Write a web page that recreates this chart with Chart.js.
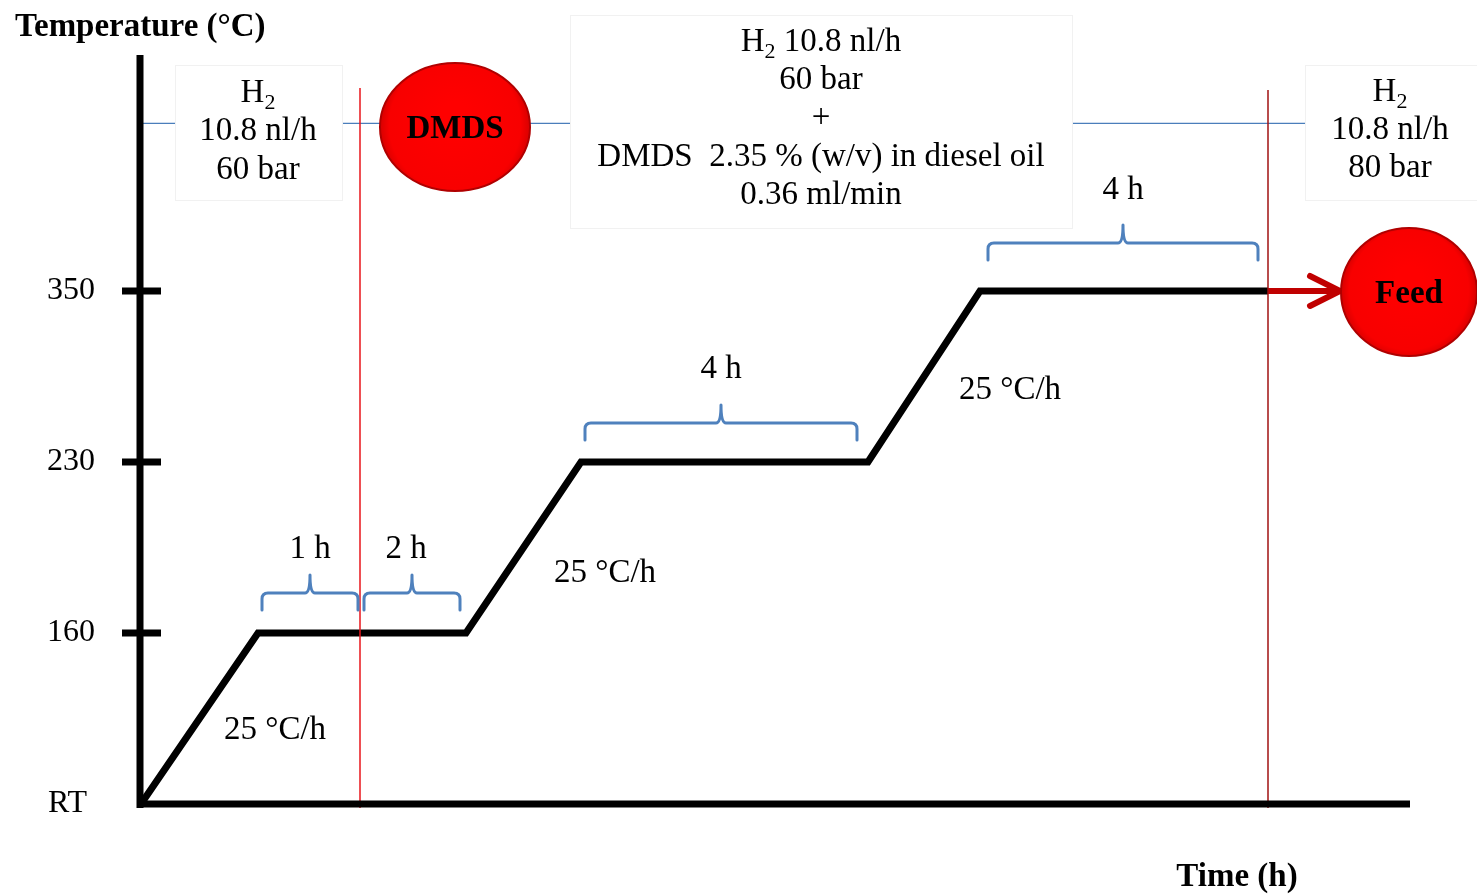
<!DOCTYPE html>
<html>
<head>
<meta charset="utf-8">
<script src="https://cdn.jsdelivr.net/npm/chart.js@4/dist/chart.umd.min.js"></script>
<style>
  html, body { margin: 0; padding: 0; background: #ffffff; }
  #wrap { width: 1477px; height: 896px; position: relative; }
</style>
</head>
<body>
<div id="wrap"><canvas id="c" width="1477" height="896"></canvas></div>
<script>
// Temperature levels shown on the vertical axis (schematic, evenly spaced)
const tempTicks = ['RT', '160', '230', '350'];

// Heating programme: schematic time positions and temperature at each corner
const profileTime = [0, 1.17, 3.25, 4.40, 7.27, 8.39, 11.27];
const profileTemp = ['RT', '160', '160', '230', '230', '350', '350'];

// Feed arrow after the last hold
const feedTime = [11.27, 11.97];
const feedTemp = ['350', '350'];

// Stage boundaries (red vertical lines)
const stageTime = [2.19, 11.27];
const stageColor = ['#e8141b', '#a01010'];

// Hold periods marked with braces
const holdStart = [1.21, 2.23, 4.44, 8.47];
const holdEnd   = [2.17, 3.19, 7.16, 11.17];
const holdTemp  = ['160', '160', '230', '350'];
const holdLabel = ['1 h', '2 h', '4 h', '4 h'];

// Ramp-rate labels
const rampLabel = ['25 \u00B0C/h', '25 \u00B0C/h', '25 \u00B0C/h'];
const rampTime  = [1.34, 4.64, 8.69];
const rampLevel = [0.43, 1.35, 2.42];

const level = t => tempTicks.indexOf(String(t));
const SERIF = "'Liberation Serif', 'Times New Roman', serif";
const FS = 33;

function drawH2Line(ctx, rest, cx, cy, size) {
  const main = size + 'px ' + SERIF;
  const sub = Math.round(size * 0.66) + 'px ' + SERIF;
  ctx.font = main; const wH = ctx.measureText('H').width;
  const wR = ctx.measureText(rest).width;
  ctx.font = sub; const w2 = ctx.measureText('2').width;
  let x = cx - (wH + w2 + wR) / 2;
  ctx.textAlign = 'left'; ctx.textBaseline = 'middle';
  ctx.font = main; ctx.fillText('H', x, cy); x += wH;
  ctx.font = sub; ctx.fillText('2', x, cy + size * 0.3); x += w2;
  ctx.font = main; ctx.fillText(rest, x, cy);
}

function drawBrace(ctx, x0, x1, yLine) {
  // yLine = horizontal bar; tips hang down, centre nub points up
  const tip = 17, nub = 18, r = 6;
  const xm = (x0 + x1) / 2;
  ctx.beginPath();
  ctx.moveTo(x0, yLine + tip);
  ctx.lineTo(x0, yLine + r);
  ctx.quadraticCurveTo(x0, yLine, x0 + r, yLine);
  ctx.lineTo(xm - 5, yLine);
  ctx.quadraticCurveTo(xm, yLine, xm, yLine - nub);
  ctx.quadraticCurveTo(xm, yLine, xm + 5, yLine);
  ctx.lineTo(x1 - r, yLine);
  ctx.quadraticCurveTo(x1, yLine, x1, yLine + r);
  ctx.lineTo(x1, yLine + tip);
  ctx.stroke();
}

function drawEllipse(ctx, cx, cy, rx, ry, label) {
  ctx.save();
  ctx.beginPath();
  ctx.ellipse(cx, cy, rx, ry, 0, 0, Math.PI * 2);
  const g = ctx.createRadialGradient(cx, cy - ry * 0.2, ry * 0.2, cx, cy, Math.max(rx, ry));
  g.addColorStop(0, '#ff0000');
  g.addColorStop(0.85, '#f80000');
  g.addColorStop(1, '#d80000');
  ctx.fillStyle = g;
  ctx.fill();
  ctx.lineWidth = 2;
  ctx.strokeStyle = '#b00000';
  ctx.stroke();
  ctx.fillStyle = '#000';
  ctx.font = 'bold ' + FS + 'px ' + SERIF;
  ctx.textAlign = 'center'; ctx.textBaseline = 'middle';
  ctx.fillText(label, cx, cy + 2);
  ctx.restore();
}

function box(ctx, x, y, w, h) {
  ctx.fillStyle = '#ffffff';
  ctx.fillRect(x, y, w, h);
  ctx.strokeStyle = '#f1f1f1';
  ctx.lineWidth = 1;
  ctx.strokeRect(x + 0.5, y + 0.5, w, h);
}

const schemePlugin = {
  id: 'scheme',
  afterDraw(chart) {
    const ctx = chart.ctx;
    const xs = chart.scales.x, ys = chart.scales.y;
    const px = v => xs.getPixelForValue(v);
    const py = v => ys.getPixelForValue(v);
    const area = chart.chartArea;
    ctx.save();

    // thin blue gas-feed line
    const yGas = py(3.98);
    ctx.strokeStyle = '#4a7ebb'; ctx.lineWidth = 1.2;
    ctx.beginPath(); ctx.moveTo(area.left, yGas); ctx.lineTo(chart.width, yGas); ctx.stroke();

    // condition boxes
    box(ctx, 175, 65, 167, 135);
    box(ctx, 570, 15, 502, 213);
    box(ctx, 1305, 65, 172, 135);

    ctx.fillStyle = '#000';
    ctx.textAlign = 'center'; ctx.textBaseline = 'middle';
    drawH2Line(ctx, '', 258, 93, FS);
    ctx.font = FS + 'px ' + SERIF; ctx.textAlign = 'center';
    ctx.fillText('10.8 nl/h', 258, 131);
    ctx.fillText('60 bar', 258, 170);

    drawH2Line(ctx, ' 10.8 nl/h', 821, 42, FS);
    ctx.font = FS + 'px ' + SERIF; ctx.textAlign = 'center';
    ctx.fillText('60 bar', 821, 80);
    ctx.fillText('+', 821, 118);
    ctx.fillText('DMDS  2.35 % (w/v) in diesel oil', 821, 157);
    ctx.fillText('0.36 ml/min', 821, 195);

    drawH2Line(ctx, '', 1390, 92, FS);
    ctx.font = FS + 'px ' + SERIF; ctx.textAlign = 'center';
    ctx.fillText('10.8 nl/h', 1390, 130);
    ctx.fillText('80 bar', 1390, 168);

    // stage boundaries
    stageTime.forEach((t, i) => {
      ctx.strokeStyle = stageColor[i]; ctx.lineWidth = 1.5;
      ctx.beginPath(); ctx.moveTo(px(t), 88 + i * 2); ctx.lineTo(px(t), py(0) + 4); ctx.stroke();
    });

    // hold braces and durations
    const braceGap = [40, 40, 39, 48];
    const labelGap = [44, 44, 54, 53];
    ctx.strokeStyle = '#4f81bd'; ctx.lineWidth = 3; ctx.lineCap = 'round'; ctx.lineJoin = 'round';
    holdStart.forEach((s, i) => {
      const yl = py(level(holdTemp[i])) - braceGap[i];
      drawBrace(ctx, px(s), px(holdEnd[i]), yl);
      ctx.fillStyle = '#000'; ctx.font = FS + 'px ' + SERIF; ctx.textAlign = 'center';
      ctx.fillText(holdLabel[i], (px(s) + px(holdEnd[i])) / 2 - (i === 1 ? 6 : 0), yl - labelGap[i]);
    });

    // ramp labels
    ctx.fillStyle = '#000'; ctx.font = FS + 'px ' + SERIF; ctx.textAlign = 'center';
    rampLabel.forEach((l, i) => ctx.fillText(l, px(rampTime[i]), py(rampLevel[i])));

    // feed arrowhead
    const tipX = px(feedTime[1]) + 2, tipY = py(level(feedTemp[1]));
    ctx.strokeStyle = '#c00000'; ctx.lineWidth = 6; ctx.lineCap = 'round'; ctx.lineJoin = 'miter';
    ctx.beginPath();
    ctx.moveTo(tipX - 30, tipY - 15); ctx.lineTo(tipX, tipY); ctx.lineTo(tipX - 30, tipY + 15);
    ctx.stroke();

    // DMDS and Feed markers
    drawEllipse(ctx, 455, 127, 75, 64, 'DMDS');
    drawEllipse(ctx, 1409, 292, 68, 64, 'Feed');

    // axes
    ctx.strokeStyle = '#000'; ctx.lineCap = 'butt'; ctx.lineWidth = 7;
    ctx.beginPath(); ctx.moveTo(area.left - 1, area.top); ctx.lineTo(area.left - 1, py(0) + 4); ctx.stroke();
    ctx.beginPath(); ctx.moveTo(area.left - 4, py(0)); ctx.lineTo(area.right, py(0)); ctx.stroke();
    for (let i = 1; i < tempTicks.length; i++) {
      ctx.beginPath(); ctx.moveTo(area.left - 19, py(i)); ctx.lineTo(area.left + 20, py(i)); ctx.stroke();
    }

    // axis titles
    ctx.fillStyle = '#000'; ctx.font = 'bold ' + FS + 'px ' + SERIF;
    ctx.textAlign = 'left'; ctx.textBaseline = 'middle';
    ctx.fillText('Temperature (\u00B0C)', 15, 27);
    ctx.textAlign = 'center';
    ctx.fillText('Time (h)', 1237, 877);
    ctx.restore();
  }
};

new Chart(document.getElementById('c'), {
  type: 'line',
  data: {
    datasets: [
      {
        label: 'Temperature',
        data: profileTime.map((t, i) => ({ x: t, y: level(profileTemp[i]) })),
        borderColor: '#000000', borderWidth: 7, pointRadius: 0, tension: 0,
        borderJoinStyle: 'miter', borderCapStyle: 'butt', fill: false
      },
      {
        label: 'Feed',
        data: feedTime.map((t, i) => ({ x: t, y: level(feedTemp[i]) })),
        borderColor: '#c00000', borderWidth: 6, pointRadius: 0, tension: 0, fill: false
      }
    ]
  },
  options: {
    responsive: false,
    animation: false,
    layout: { padding: { left: 0, right: 67, top: 55, bottom: 92 } },
    plugins: { legend: { display: false }, tooltip: { enabled: false } },
    scales: {
      x: {
        type: 'linear', min: 0, max: 12.69, display: false
      },
      y: {
        type: 'linear', min: 0, max: 4.38,
        grid: { display: false, drawTicks: false },
        border: { display: false },
        afterBuildTicks: s => { s.ticks = tempTicks.map((_, i) => ({ value: i })); },
        afterFit: s => { s.width = 141; s.paddingTop = 0; s.paddingBottom = 0; },
        ticks: {
          padding: 46, color: '#000',
          font: { family: SERIF, size: 32 },
          // the room-temperature label sits slightly left of the numeric ones
          callback: v => (v === 0 ? tempTicks[v] + ' ' : tempTicks[v])
        }
      }
    }
  },
  plugins: [schemePlugin]
});
</script>
</body>
</html>
